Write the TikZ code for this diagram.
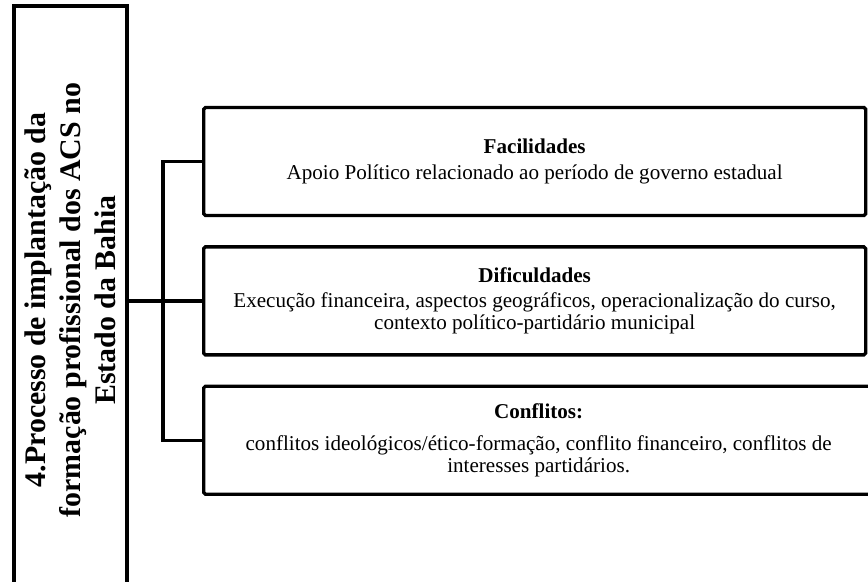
\documentclass[tikz,border=0pt]{standalone}
\usepackage{fontspec}
\setmainfont{Liberation Serif}
\usetikzlibrary{positioning}

\begin{document}
\begin{tikzpicture}[
    node distance=0.56cm,
    mainbox/.style={rectangle, draw=black, line width=2.3pt, minimum width=11.76cm, minimum height=2.26cm, align=center, font=\fontsize{17}{20}\selectfont\bfseries},
    itembox/.style={rectangle, draw=black, line width=1.9pt, rounded corners=1pt, minimum width=13.24cm, minimum height=2.16cm, align=center, font=\fontsize{12}{12.4}\selectfont},
    link/.style={line width=1.9pt, black},
]
\useasboundingbox (0,0) rectangle (17.36,-11.62);

% Main theme (rotated)
\node[mainbox, rotate=90] (processo) at (1.41,-6.0) {4.Processo de implantação da\\formação profissional dos ACS no\\Estado da Bahia};

% Categories
\node[itembox, anchor=west] (facilidades) at (4.04,-3.23) {\textbf{Facilidades}\\[2pt]Apoio Político relacionado ao período de governo estadual};
\node[itembox, below=of facilidades] (dificuldades) {\textbf{Dificuldades}\\[2pt]Execução financeira, aspectos geográficos, operacionalização do curso,\\contexto político-partidário municipal};
\node[itembox, minimum width=13.4cm, below=of dificuldades.south west, anchor=north west] (conflitos) {\textbf{Conflitos:}\\[6pt]conflitos ideológicos/ético-formação, conflito financeiro, conflitos de\\interesses partidários.};

% Connectors
\draw[link] (processo.south |- dificuldades.west) -- (dificuldades.west);
\draw[link] (facilidades.west) -- ++(-0.78,0) |- (conflitos.west);

\end{tikzpicture}
\end{document}
